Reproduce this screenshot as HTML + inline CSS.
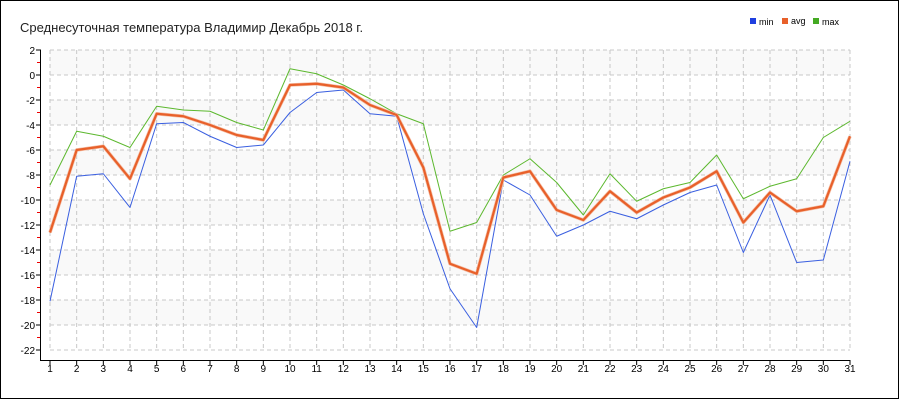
<!DOCTYPE html>
<html><head><meta charset="utf-8"><style>
html,body{margin:0;padding:0;background:#fff}
svg{display:block;font-family:"Liberation Sans",Tahoma,sans-serif}
</style></head><body>
<svg id="c" width="900" height="400" xmlns="http://www.w3.org/2000/svg"></svg>
<script>
const mn=[-18.1,-8.1,-7.9,-10.6,-3.9,-3.8,-4.9,-5.8,-5.6,-3.0,-1.4,-1.2,-3.1,-3.3,-11.1,-17.1,-20.2,-8.4,-9.6,-12.9,-12.0,-10.9,-11.5,-10.4,-9.4,-8.8,-14.2,-9.6,-15.0,-14.8,-6.9];
const av=[-12.6,-6.0,-5.7,-8.3,-3.1,-3.3,-4.0,-4.8,-5.2,-0.8,-0.7,-1.0,-2.4,-3.2,-7.4,-15.1,-15.9,-8.2,-7.7,-10.8,-11.6,-9.3,-11.0,-9.8,-9.0,-7.7,-11.8,-9.4,-10.9,-10.5,-4.9];
const mx=[-8.8,-4.5,-4.9,-5.8,-2.5,-2.8,-2.9,-3.8,-4.4,0.5,0.1,-0.8,-1.9,-3.1,-3.9,-12.5,-11.8,-8.0,-6.7,-8.6,-11.2,-7.9,-10.1,-9.1,-8.6,-6.4,-9.9,-8.9,-8.3,-5.0,-3.7];
const X=d=>50+(d-1)*800/30, Y=v=>75-v*12.5;
let s='<rect x="0.5" y="0.5" width="898" height="398" fill="#fff" stroke="#000"/>';
for(let v=2;v>-22;v-=4) s+=`<rect x="50" y="${Y(v)}" width="800" height="25" fill="#f9f9f9"/>`;
for(let v=2;v>=-22;v-=2){s+=`<line x1="50" x2="850" y1="${Y(v)}" y2="${Y(v)}" stroke="#c8c8c8" stroke-dasharray="4,3"/>`;
 s+=`<line x1="36" x2="41" y1="${Y(v)}" y2="${Y(v)}" stroke="#000"/>`;
 s+=`<text x="35" y="${Y(v)+4}" font-size="10" text-anchor="end">${v}</text>`;}
for(let v=1;v>-22;v-=2) s+=`<line x1="37" x2="41" y1="${Y(v)}" y2="${Y(v)}" stroke="#e00"/>`;
for(let d=1;d<=31;d++){s+=`<line x1="${X(d)}" x2="${X(d)}" y1="50" y2="350" stroke="#c8c8c8" stroke-dasharray="4,3"/>`;
 s+=`<line x1="${X(d)}" x2="${X(d)}" y1="360" y2="365" stroke="#000"/>`;
 s+=`<text x="${X(d)}" y="372" font-size="10" text-anchor="middle">${d}</text>`;}
s+='<line x1="40.5" x2="40.5" y1="50" y2="360" stroke="#000"/><line x1="40" x2="850" y1="360.5" y2="360.5" stroke="#000"/>';
const pl=(a,c,w)=>`<polyline fill="none" stroke="${c}" stroke-width="${w}" stroke-linejoin="round" points="${a.map((v,i)=>X(i+1)+','+Y(v)).join(' ')}"/>`;
s+=pl(mx,'#5cb82e',1)+pl(mn,'#3a5fe0',1)+pl(av,'#f5c0a8',3.5)+pl(av,'#e8602a',2.2);
s+='<text x="20" y="32" font-size="13" fill="#222">Среднесуточная температура Владимир  Декабрь 2018 г.</text>';
s+='<rect x="750" y="18" width="6" height="6" fill="#1f3fe0"/><text x="759" y="25" font-size="9">min</text>';
s+='<rect x="782" y="18" width="6" height="6" fill="#e8602a"/><text x="791" y="24" font-size="9">avg</text>';
s+='<rect x="813" y="18" width="6" height="6" fill="#44aa22"/><text x="822" y="25" font-size="9">max</text>';
document.getElementById('c').innerHTML=s;
</script>
</body></html>
